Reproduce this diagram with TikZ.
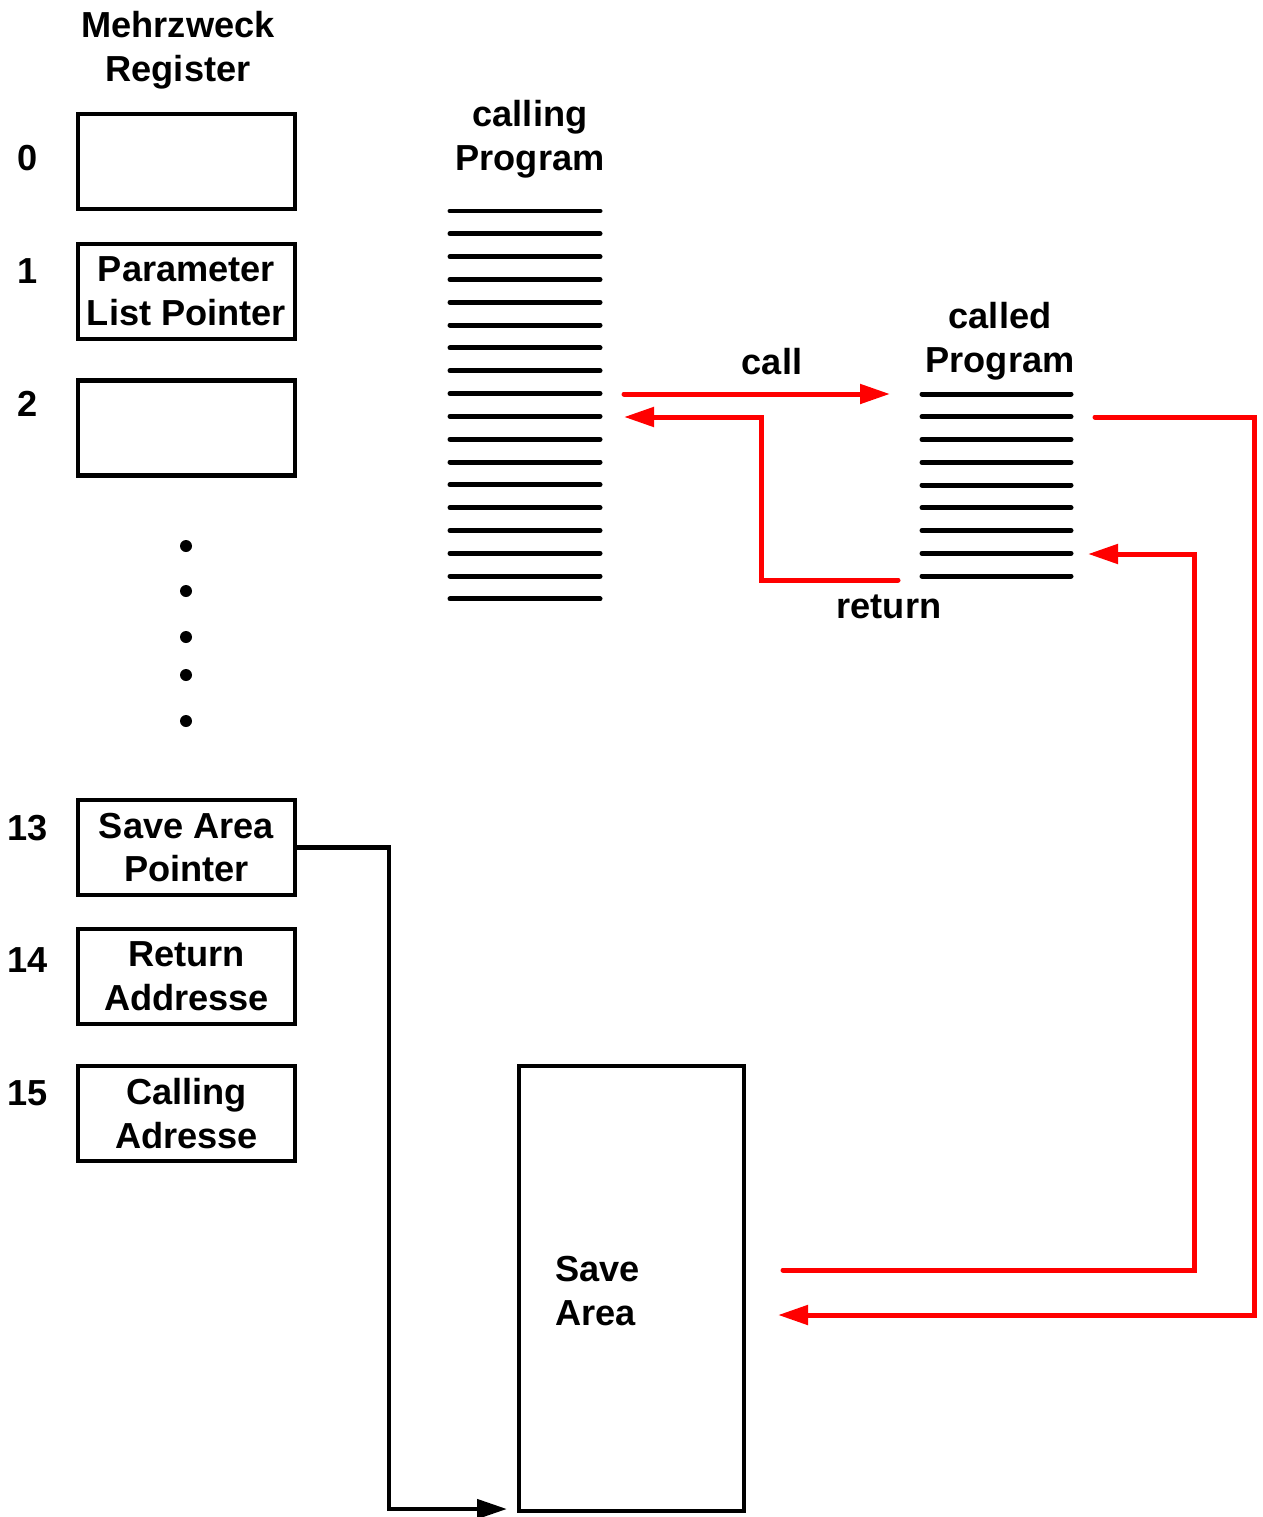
\documentclass[tikz,border=0pt]{standalone}
\usepackage{fontspec}
\setmainfont{Liberation Sans}
\usepackage{xcolor}
\usetikzlibrary{arrows.meta,positioning}

\begin{document}
\begin{tikzpicture}[
    x=0.02cm, y=-0.02cm,
    every node/.style={font=\fontsize{20.6}{25}\selectfont\bfseries},
    reg/.style={
        rectangle, draw, line width=0.09cm, minimum width=4.34cm,
        minimum height=1.9cm, inner sep=0pt, align=center
    },
    progline/.style={line width=0.1cm, line cap=round},
    conn/.style={line width=0.09cm, -{Triangle[length=0.6cm, width=0.38cm]}},
    redconn/.style={conn, red, line width=0.1cm, line cap=round}
]
\useasboundingbox (0,0) rectangle (1263,1517);

% --- Register column
\node[reg] (reg0)  at (186.5,161.5)  {};
\node[reg] (reg1)  at (186.5,291.5)  {Parameter\\List Pointer};
\node[reg] (reg2)  at (186.5,428)    {};
\node[reg] (reg13) at (186.5,847.5)  {Save Area\\Pointer};
\node[reg] (reg14) at (186.5,976.5)  {Return\\Addresse};
\node[reg] (reg15) at (186.5,1113.5) {Calling\\Adresse};

% register numbers
\foreach \rnum/\ry in {0/158, 1/271, 2/404, 13/828, 14/960, 15/1093}
  \node (num\rnum) at (28,\ry) {\rnum};

\node[align=center] (regTitle) at (178,50) {Mehrzweck\\Register};

% dots between 2 and 13
\foreach \y in {546,591,637,675,721}
  \fill (186,\y) circle[radius=0.12cm];

% --- calling program (18 lines)
\def\callstep{22.82}
\foreach \i in {0,...,17}
  \draw[progline] (450,211+\i*\callstep) -- (600,211+\i*\callstep);
\node[align=center] (callingTitle) at (530,139) {calling\\Program};

% --- called program (9 lines)
\def\calledstep{22.75}
\foreach \i in {0,...,8}
  \draw[progline] (922,394+\i*\calledstep) -- (1071,394+\i*\calledstep);
\node[align=center] (calledTitle) at (1000,341) {called\\Program};

% --- save area
\node[reg, minimum width=4.5cm, minimum height=8.9cm] (saveArea) at (631.5,1288.5) {};
\node[align=left, anchor=west] (saveLbl) at (549,1291) {Save\\Area};

% connector ends
\coordinate (callOut) at (624,394);
\coordinate (callIn)  at (890,394);
\coordinate (retOut)  at (898,580);
\coordinate (retIn)   at (624,417);
\coordinate (saveOut) at (1095,417);
\coordinate (saveIn)  at (778,1315);
\coordinate (restOut) at (783,1270);
\coordinate (restIn)  at (1088,554);
\coordinate (saIn)    at (507,1509);

% --- connectors
\draw[conn] (reg13.east) -- ++(92,0) |- (saIn);
\draw[redconn] (callOut) -- (callIn);
\draw[redconn] (retOut) -- ++(-137,0) |- (retIn);
\draw[redconn] (saveOut) -- ++(159,0) |- (saveIn);
\draw[redconn] (restOut) -- ++(411,0) |- (restIn);

\node (callLbl) at (772,362) {call};
\node (retLbl) at (889,607) {return};
\end{tikzpicture}
\end{document}
